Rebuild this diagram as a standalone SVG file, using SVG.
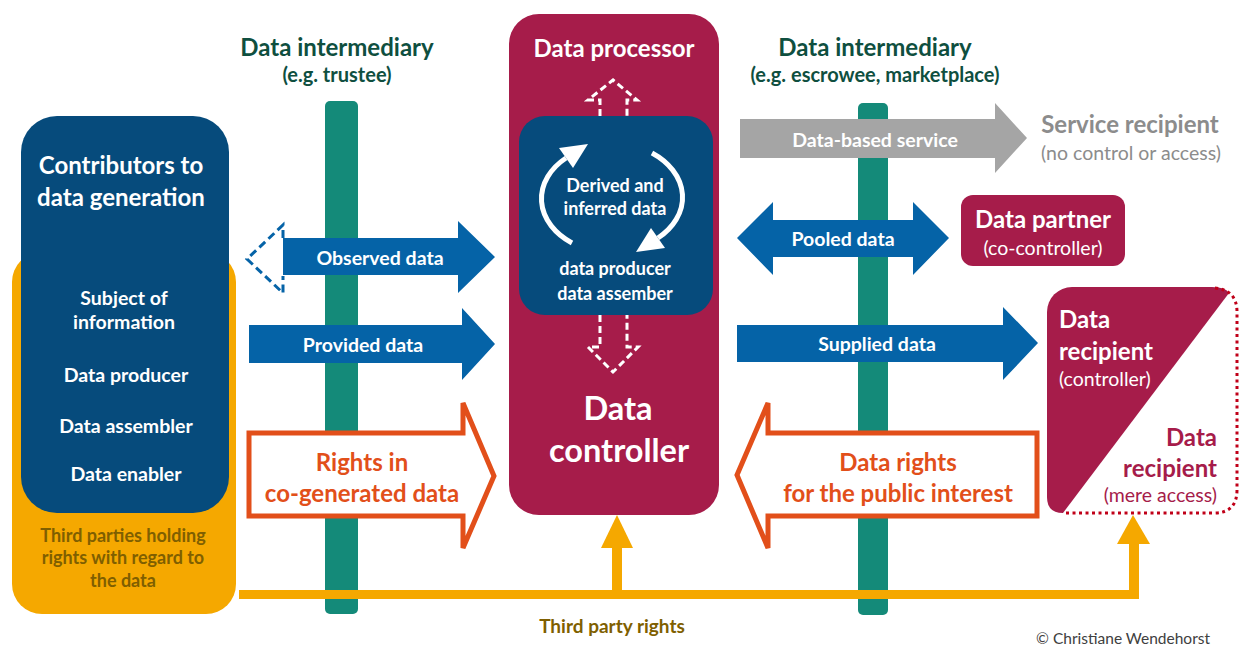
<svg xmlns="http://www.w3.org/2000/svg" width="1241" height="648" viewBox="0 0 1241 648">
<style>
text{font-family:Lato,"Open Sans","Liberation Sans",sans-serif;text-anchor:middle;dominant-baseline:central}
.b{font-weight:bold}
.w{fill:#fff}
.hdr{fill:#0f4f3f;font-weight:bold}
.brown{fill:#7f5f00;font-weight:bold}
.blue{fill:#0563a7}
.rights{fill:#fff;stroke:#e24f1a;stroke-width:5}
.rt{fill:#e24f1a;font-weight:bold;font-size:24px}
.teal{fill:#148a79}
.yl{fill:#f5a800}
.dash{fill:none;stroke:#fff;stroke-width:3;stroke-dasharray:7 4}
.lbl{font-size:19.5px;font-weight:bold;fill:#fff}
.in{font-size:18px;font-weight:bold;fill:#fff}
</style>
<rect width="1241" height="648" fill="#fff"/>

<g id="intermediary-left">
<rect class="teal" x="325" y="101" width="33" height="513" rx="5"/>
<text class="hdr" x="337" y="46" font-size="24">Data intermediary</text>
<text class="hdr" x="337" y="74" font-size="20">(e.g. trustee)</text>
</g>
<g id="intermediary-right">
<rect class="teal" x="858" y="103" width="30" height="512" rx="5"/>
<text class="hdr" x="875" y="46" font-size="24">Data intermediary</text>
<text class="hdr" x="875" y="74" font-size="20">(e.g. escrowee, marketplace)</text>
</g>

<g id="third-parties">
<rect class="yl" x="12" y="252" width="224" height="362" rx="30"/>
<text class="brown" x="123" y="535" font-size="18">Third parties holding</text>
<text class="brown" x="123" y="557" font-size="18">rights with regard to</text>
<text class="brown" x="123" y="580" font-size="18">the data</text>
</g>
<g id="contributors">
<rect x="21" y="116" width="208" height="397" rx="36" fill="#064b7c"/>
<text class="w b" x="121" y="164" font-size="24">Contributors to</text>
<text class="w b" x="121" y="196" font-size="24">data generation</text>
<text class="lbl" x="124" y="297">Subject of</text>
<text class="lbl" x="124" y="321">information</text>
<text class="lbl" x="126" y="374">Data producer</text>
<text class="lbl" x="126" y="425">Data assembler</text>
<text class="lbl" x="126" y="473">Data enabler</text>
</g>

<g id="data-controller">
<rect x="509" y="14" width="210" height="501" rx="30" fill="#a61c4a"/>
<text class="w b" x="614" y="47" font-size="24">Data processor</text>
<path class="dash" d="M600,116 V100 H588 L613,80 L637,100 H627 V116"/>
<path class="dash" d="M600,315 V347 H588 L613,372 L638,347 H627 V315"/>
<text class="w b" x="618" y="407" font-size="32.5">Data</text>
<text class="w b" x="619" y="449" font-size="32.5">controller</text>
</g>
<g id="data-producer">
<rect x="519" y="116" width="194" height="199" rx="26" fill="#064b7c"/>
<path d="M572,243 A75,55 0 0 1 566,158" fill="none" stroke="#fff" stroke-width="5"/>
<polygon points="588,144 573,168 559,148" fill="#fff"/>
<path d="M652,153 A75,55 0 0 1 658,238" fill="none" stroke="#fff" stroke-width="5"/>
<polygon points="636,252 651,228 665,248" fill="#fff"/>
<text class="in" x="615" y="185">Derived and</text>
<text class="in" x="615" y="208">inferred data</text>
<text class="in" x="615" y="268">data producer</text>
<text class="in" x="615" y="293">data assember</text>
</g>

<g id="service-recipient">
<text x="1130" y="123" font-size="24" font-weight="bold" fill="#8c8c8c">Service recipient</text>
<text x="1131" y="152" font-size="19.5" fill="#8c8c8c">(no control or access)</text>
</g>
<g id="data-partner">
<rect x="961" y="195" width="164" height="71" rx="12" fill="#a61c4a"/>
<text class="w b" x="1043" y="218" font-size="24">Data partner</text>
<text class="w" x="1043" y="247" font-size="19.5">(co-controller)</text>
</g>
<g id="data-recipient">
<path d="M1047,312 A25,25 0 0 1 1072,287 H1212 Q1226,287 1229,293 L1063,513 Q1047,513 1047,497 Z" fill="#a61c4a"/>
<path d="M1215,288 Q1237,290 1237,312 V490 Q1237,513 1214,513 H1066" fill="none" stroke="#c00018" stroke-width="3" stroke-dasharray="3 3.5"/>
<text class="w b" x="1059" y="318" font-size="24" style="text-anchor:start">Data</text>
<text class="w b" x="1059" y="350" font-size="24" style="text-anchor:start">recipient</text>
<text class="w" x="1059" y="378" font-size="19.5" style="text-anchor:start">(controller)</text>
<text x="1217" y="436" font-size="24" font-weight="bold" fill="#a61c4a" style="text-anchor:end">Data</text>
<text x="1217" y="467" font-size="24" font-weight="bold" fill="#a61c4a" style="text-anchor:end">recipient</text>
<text x="1217" y="494" font-size="19.5" fill="#a61c4a" style="text-anchor:end">(mere access)</text>
</g>

<g id="connectors">
<path d="M283,238 V225 L247,259 L283,293 V276" fill="none" stroke="#0563a7" stroke-width="3" stroke-dasharray="8 4.5"/>
<polygon class="blue" points="283,238 458,238 458,221 495,257 458,293 458,275 283,275"/>
<text class="lbl" x="380" y="257">Observed data</text>
<polygon class="blue" points="249,325 462,325 462,308 495,344 462,380 462,363 249,363"/>
<text class="lbl" x="363" y="344">Provided data</text>
<polygon class="rights" points="249,433 463,433 463,403 494,476 463,548 463,516 249,516"/>
<text class="rt" x="362" y="461">Rights in</text>
<text class="rt" x="362" y="492">co-generated data</text>

<polygon points="740,119 995,119 995,103 1027,138 995,173 995,158 740,158" fill="#a5a5a5"/>
<text class="lbl" x="875" y="139">Data-based service</text>
<polygon class="blue" points="737,238 773,202 773,220 913,220 913,202 949,238 913,275 913,257 773,257 773,275"/>
<text class="lbl" x="843" y="238">Pooled data</text>
<polygon class="blue" points="737,325 1003,325 1003,307 1038,343 1003,380 1003,362 737,362"/>
<text class="lbl" x="877" y="343">Supplied data</text>
<polygon class="rights" points="1037,433 768,433 768,403 737,475 768,548 768,516 1037,516"/>
<text class="rt" x="898" y="461">Data rights</text>
<text class="rt" x="898" y="492">for the public interest</text>

<rect class="yl" x="239" y="590" width="900" height="9"/>
<rect class="yl" x="1129" y="543" width="10" height="56"/>
<polygon class="yl" points="1133,515 1150,544 1117,544"/>
<rect class="yl" x="612" y="546" width="10" height="50"/>
<polygon class="yl" points="617,515 633,548 601,548"/>
<text class="brown" x="612" y="625" font-size="19">Third party rights</text>
</g>
<text x="1210" y="638" font-size="15.5" fill="#404040" style="text-anchor:end">© Christiane Wendehorst</text>
</svg>
